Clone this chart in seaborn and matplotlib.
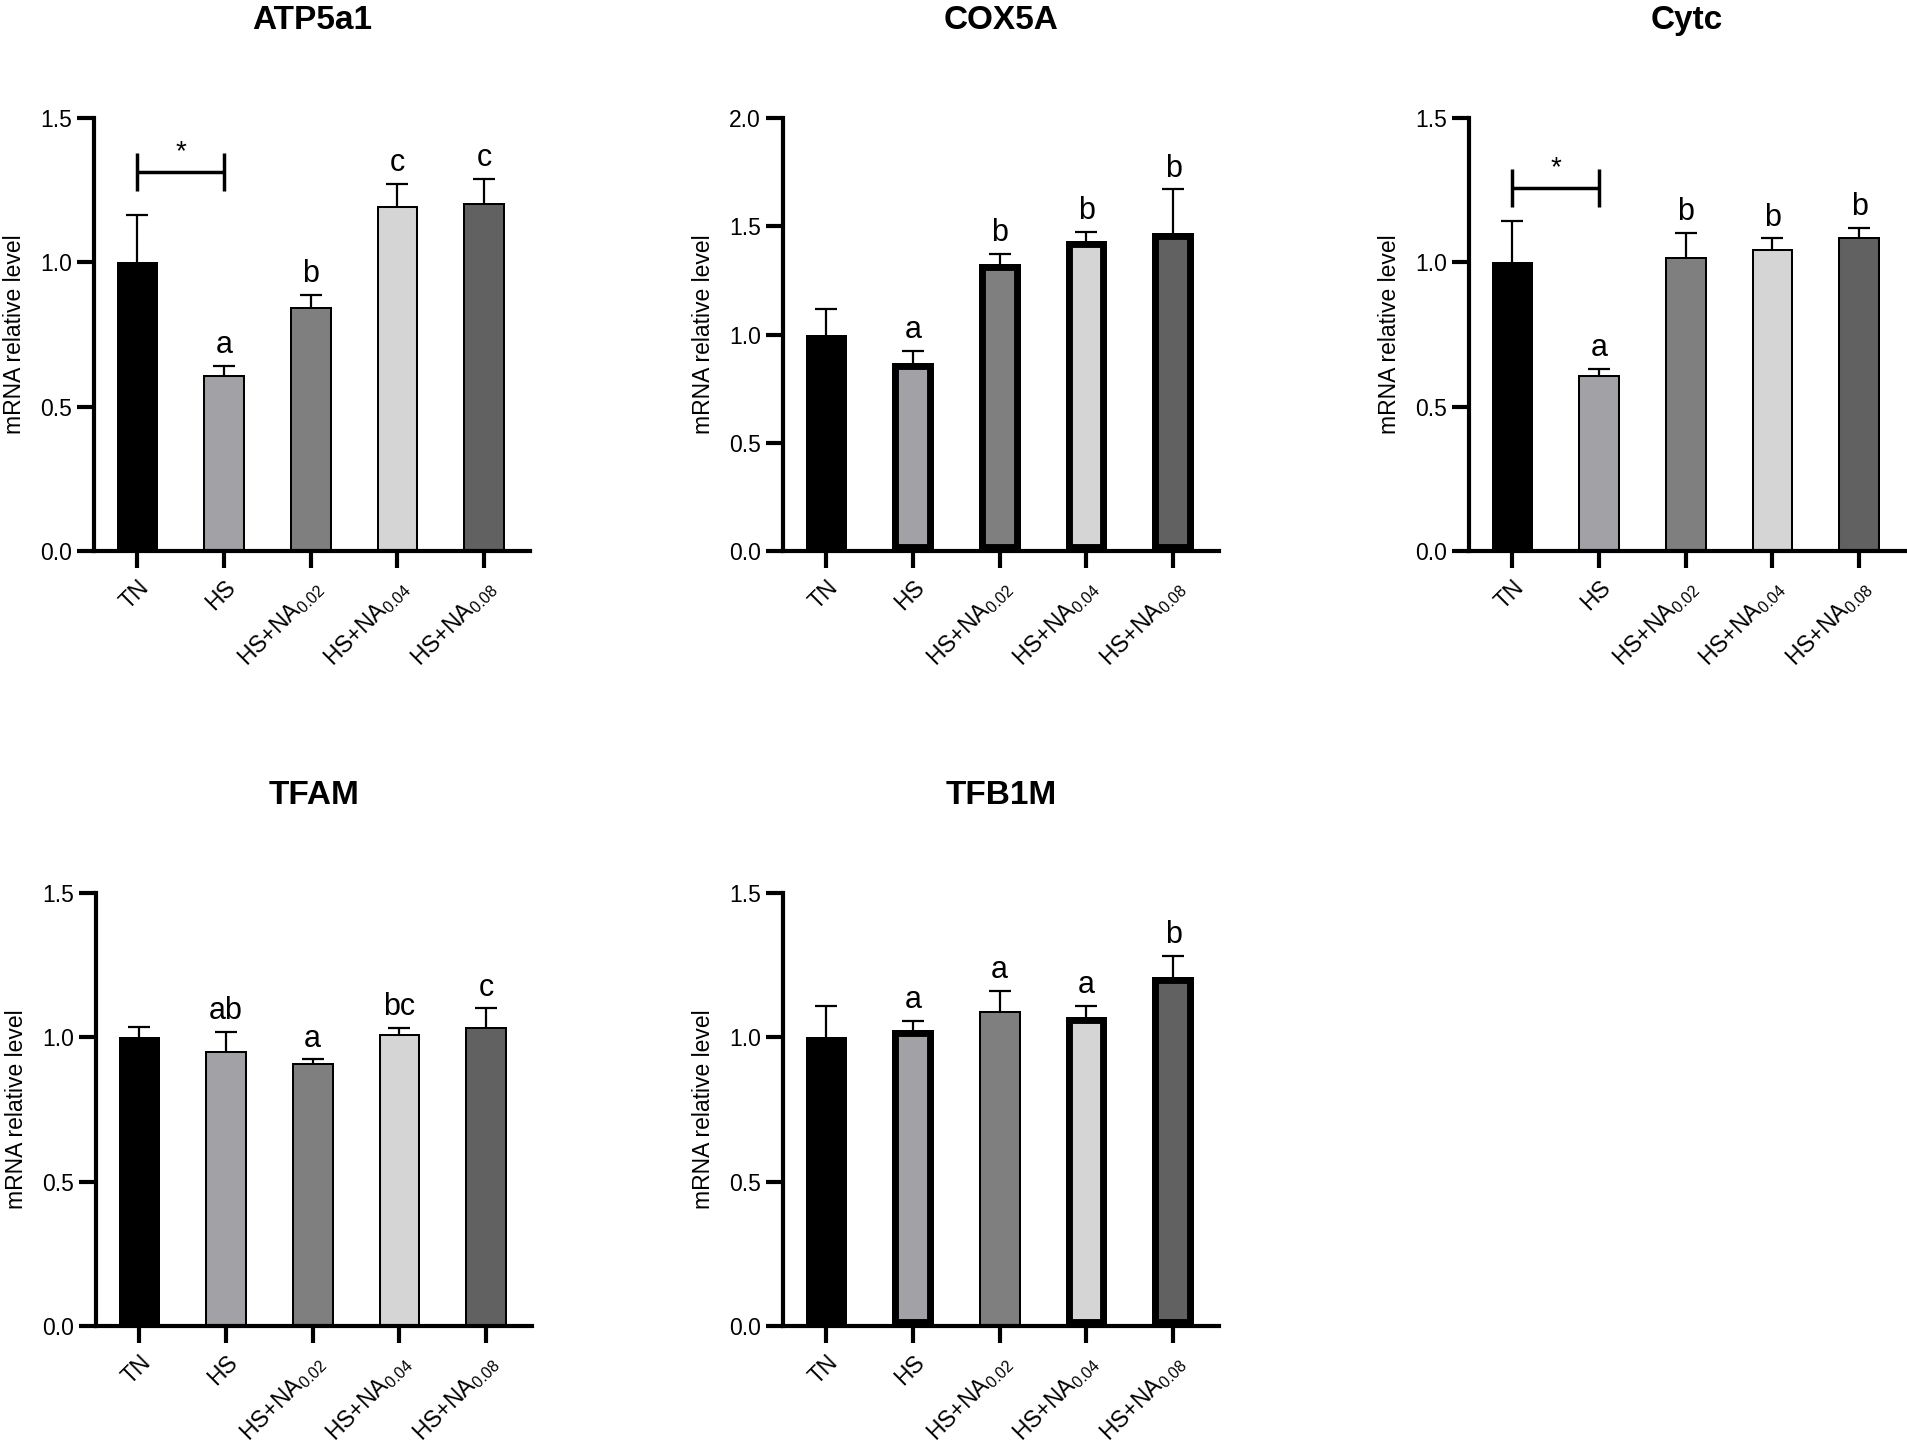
import matplotlib
matplotlib.use("Agg")
import matplotlib.pyplot as plt
import numpy as np
import pandas as pd
import seaborn as sns

# groups (x axis) and their fills
GROUPS = ["TN", "HS", "HS+NA0.02", "HS+NA0.04", "HS+NA0.08"]
GROUP_LABELS = ["TN", "HS", "HS+NA$_{0.02}$", "HS+NA$_{0.04}$", "HS+NA$_{0.08}$"]
GROUP_COLORS = ["#000000", "#a1a1a7", "#7f7f7f", "#d5d5d5", "#616161"]

# values: mean and SEM (upper error only)
ATP5A1_MEAN = [1.00, 0.61, 0.845, 1.195, 1.205]
ATP5A1_SEM = [0.165, 0.032, 0.043, 0.078, 0.085]
ATP5A1_LETTERS = ["", "a", "b", "c", "c"]

COX5A_MEAN = [1.00, 0.87, 1.325, 1.43, 1.47]
COX5A_SEM = [0.12, 0.056, 0.047, 0.045, 0.20]
COX5A_LETTERS = ["", "a", "b", "b", "b"]

CYTC_MEAN = [1.00, 0.61, 1.02, 1.045, 1.088]
CYTC_SEM = [0.142, 0.021, 0.082, 0.039, 0.031]
CYTC_LETTERS = ["", "a", "b", "b", "b"]

TFAM_MEAN = [1.00, 0.951, 0.911, 1.012, 1.035]
TFAM_SEM = [0.035, 0.069, 0.013, 0.022, 0.065]
TFAM_LETTERS = ["", "ab", "a", "bc", "c"]

TFB1M_MEAN = [1.00, 1.027, 1.091, 1.072, 1.209]
TFB1M_SEM = [0.108, 0.031, 0.070, 0.038, 0.074]
TFB1M_LETTERS = ["", "a", "a", "a", "b"]

# TN vs HS significance bracket height (data units)
BRACKET_Y = {"ATP5a1": 1.314, "Cytc": 1.259}

# gene, mean, sem, letters, y max, bars with heavy outline, axes origin (px)
PANELS = [
    ("ATP5a1", ATP5A1_MEAN, ATP5A1_SEM, ATP5A1_LETTERS, 1.5, [], (94, 118)),
    ("COX5A", COX5A_MEAN, COX5A_SEM, COX5A_LETTERS, 2.0, [1, 2, 3, 4], (783, 118)),
    ("Cytc", CYTC_MEAN, CYTC_SEM, CYTC_LETTERS, 1.5, [], (1469, 118)),
    ("TFAM", TFAM_MEAN, TFAM_SEM, TFAM_LETTERS, 1.5, [], (96, 893)),
    ("TFB1M", TFB1M_MEAN, TFB1M_SEM, TFB1M_LETTERS, 1.5, [1, 3, 4], (783, 893)),
]

W, H = 1907, 1452
AX_W, AX_H = 436, 433

sns.set_theme(style="ticks")
plt.rcParams["font.family"] = ["Liberation Sans", "DejaVu Sans"]
plt.rcParams["mathtext.default"] = "regular"
for key in ("text.color", "axes.labelcolor", "xtick.color", "ytick.color",
            "axes.edgecolor"):
    plt.rcParams[key] = "black"


def draw_panel(fig, gene, mean, sem, letters, ymax, heavy, origin):
    x0, y0 = origin
    ax = fig.add_axes([x0 / W, 1 - (y0 + AX_H) / H, AX_W / W, AX_H / H])
    df = pd.DataFrame({"group": GROUPS, "value": mean})
    sns.barplot(data=df, x="group", y="value", hue="group", order=GROUPS,
                hue_order=GROUPS, palette=GROUP_COLORS, errorbar=None,
                width=0.48, edgecolor="black", legend=False, ax=ax, zorder=2)
    # outline drawn inside the bar (prism style): clip stroke to the bar
    for i, p in enumerate(ax.patches):
        p.set_linewidth(10 if i in heavy else 2.9)
        p.set_edgecolor("black")
        p.set_clip_path(p)

    xs = np.arange(len(GROUPS))
    _, caps, _ = ax.errorbar(xs, mean, yerr=[np.zeros(len(sem)), sem],
                             fmt="none", ecolor="black", elinewidth=1.6,
                             capsize=8, capthick=1.6, zorder=1)
    caps[0].set_visible(False)

    tops = np.asarray(mean) + np.asarray(sem)
    for x, t, lab in zip(xs, tops, letters):
        if lab:
            ax.annotate(lab, (x, t), xytext=(0, 9), textcoords="offset points",
                        ha="center", va="baseline", fontsize=22)

    if gene in BRACKET_Y:
        by = BRACKET_Y[gene]
        ax.plot([0, 1], [by, by], color="black", lw=2.5, solid_capstyle="butt")
        for bx in (0, 1):
            ax.plot([bx, bx], [by - 0.066, by + 0.066], color="black", lw=2.5,
                    solid_capstyle="butt")
        ax.annotate("*", (0.5, by), xytext=(0, 9), textcoords="offset points",
                    ha="center", va="baseline", fontsize=20)

    ticks = np.arange(0, ymax + 0.01, 0.5)
    ax.set_xlim(-0.5, 4.53)
    ax.set_ylim(0, ymax)
    ax.set_yticks(ticks)
    ax.set_yticklabels([f"{v:.1f}" for v in ticks])
    ax.set_xticks(xs)
    ax.set_xticklabels(GROUP_LABELS, rotation=45, ha="right",
                       rotation_mode="anchor")
    ax.set_xlabel("")
    ax.set_ylabel("mRNA relative level", fontsize=16.5, labelpad=10)
    ax.set_title(gene, fontsize=24, fontweight="bold", pad=64, color="black")
    sns.despine(ax=ax)
    for s in ("left", "bottom"):
        ax.spines[s].set_linewidth(3)
        ax.spines[s].set_color("black")
    ax.tick_params(axis="both", length=12, width=3, color="black",
                   labelsize=16.5, pad=4, labelcolor="black")
    ax.tick_params(axis="x", pad=6)
    return ax


def main() -> None:
    fig = plt.figure(figsize=(W / 100, H / 100), dpi=100)
    fig.patch.set_facecolor("white")
    for gene, mean, sem, letters, ymax, heavy, origin in PANELS:
        draw_panel(fig, gene, mean, sem, letters, ymax, heavy, origin)
    fig.savefig("out.png", dpi=100, facecolor="white")
    plt.close(fig)


if __name__ == "__main__":
    main()
